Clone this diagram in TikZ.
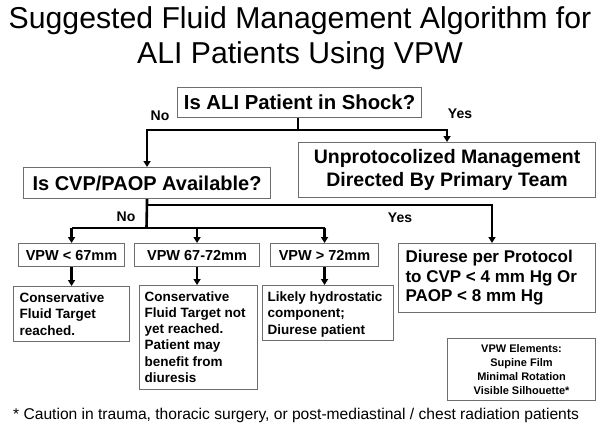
\documentclass[tikz,border=0pt]{standalone}
\usepackage{fontspec}
\setmainfont{Liberation Sans}
\usetikzlibrary{arrows.meta}
\definecolor{boxgray}{RGB}{110,110,110}
\begin{document}
\begin{tikzpicture}[x=1pt,y=-1pt,
  box/.style={draw=boxgray, line width=1.1pt, inner sep=0pt, anchor=north west, font=\bfseries},
  conn/.style={line width=2.6pt},
  arr/.style={conn, -{Triangle[length=6pt,width=7pt]}},
  lbl/.style={font=\bfseries\fontsize{14}{16}\selectfont},
  ttl/.style={font=\fontsize{30.2}{35}\selectfont, anchor=base}]
\useasboundingbox (0,0) rectangle (600,426);

% title
\node[ttl] (t1) at (300,28) {Suggested Fluid Management Algorithm for};
\node[ttl] (t2) at (300,63) {ALI Patients Using VPW};

% boxes
\node[box, minimum width=244pt, minimum height=30pt, font=\bfseries\fontsize{20.3}{24}\selectfont] (shock) at (177,87) {Is ALI Patient in Shock?};
\node[box, minimum width=247pt, minimum height=31pt, font=\bfseries\fontsize{20}{24}\selectfont] (cvp) at (23,167) {Is CVP/PAOP Available?};
\node[box, minimum width=297pt, minimum height=55pt, align=center, font=\bfseries\fontsize{19.5}{23.5}\selectfont] (unp) at (298,142) {Unprotocolized Management\\Directed By Primary Team};

\node[box, minimum width=106pt, minimum height=23pt, font=\bfseries\fontsize{14.5}{16}\selectfont] (vpw1) at (18,243) {VPW < 67mm};
\node[box, minimum width=125pt, minimum height=23pt, font=\bfseries\fontsize{14.5}{16}\selectfont] (vpw2) at (134,243) {VPW 67-72mm};
\node[box, minimum width=108pt, minimum height=23pt, font=\bfseries\fontsize{14.5}{16}\selectfont] (vpw3) at (270,243) {VPW > 72mm};

\node[box, minimum width=116pt, minimum height=55pt, font=\bfseries\fontsize{13.5}{16.5}\selectfont] (resA) at (13,286)
  {\parbox[c][43pt][t]{104pt}{\raggedright Conservative\\Fluid Target\\reached.}};
\node[box, minimum width=118pt, minimum height=104pt, font=\bfseries\fontsize{13.5}{16.2}\selectfont] (resB) at (139,285)
  {\parbox[c][92pt][t]{108pt}{\raggedright Conservative\\Fluid Target not\\yet reached.\\Patient may\\benefit from\\diuresis}};
\node[box, minimum width=131pt, minimum height=55pt, font=\bfseries\fontsize{13.5}{16.5}\selectfont] (resC) at (262,285)
  {\parbox[c][43pt][t]{121pt}{\raggedright Likely hydrostatic\\component;\\Diurese patient}};

\node[box, minimum width=197pt, minimum height=69pt, font=\bfseries\fontsize{17}{19.5}\selectfont] (dir) at (398,243)
  {\parbox{183pt}{\raggedright Diurese per Protocol\\to CVP < 4 mm Hg Or\\PAOP < 8 mm Hg}};

\node[box, minimum width=148pt, minimum height=62pt, align=center, font=\bfseries\fontsize{11}{13.9}\selectfont] (elem) at (447,338)
  {VPW Elements:\\Supine Film\\Minimal Rotation\\Visible Silhouette*};

% footnote
\node[anchor=base west, inner sep=0pt, font=\fontsize{15.6}{17}\selectfont] (foot) at (13,419)
  {* Caution in trauma, thoracic surgery, or post-mediastinal / chest radiation patients};

% labels
\node[lbl] (no1) at (160,116) {No};
\node[lbl] (yes1) at (460,114) {Yes};
\node[lbl] (no2) at (126,217) {No};
\node[lbl] (yes2) at (400,218) {Yes};

% connectors
\coordinate (j1) at (298,130);
\coordinate (j2) at (146.5,228);
\coordinate (j3) at (492,205);
\draw[conn] (shock.south -| j1) -- (j1);
\draw[arr] (j1) -| (cvp.north);
\draw[arr] (j1) -| (unp.north);

\draw[conn] (cvp.south) -- (j2);
\draw[arr] (cvp.south |- j3) -- (j3) -- (j3 |- dir.north);
\draw[conn] (vpw1.north |- j2) -- (vpw3.north |- j2);
\draw[arr] (vpw1.north |- j2) -- (vpw1.north);
\draw[arr] (vpw2.north |- j2) -- (vpw2.north);
\draw[arr] (vpw3.north |- j2) -- (vpw3.north);

\draw[arr] (vpw1.south) -- (vpw1.south |- resA.north);
\draw[arr] (vpw2.south) -- (vpw2.south |- resB.north);
\draw[arr] (vpw3.south) -- (vpw3.south |- resC.north);
\end{tikzpicture}
\end{document}
